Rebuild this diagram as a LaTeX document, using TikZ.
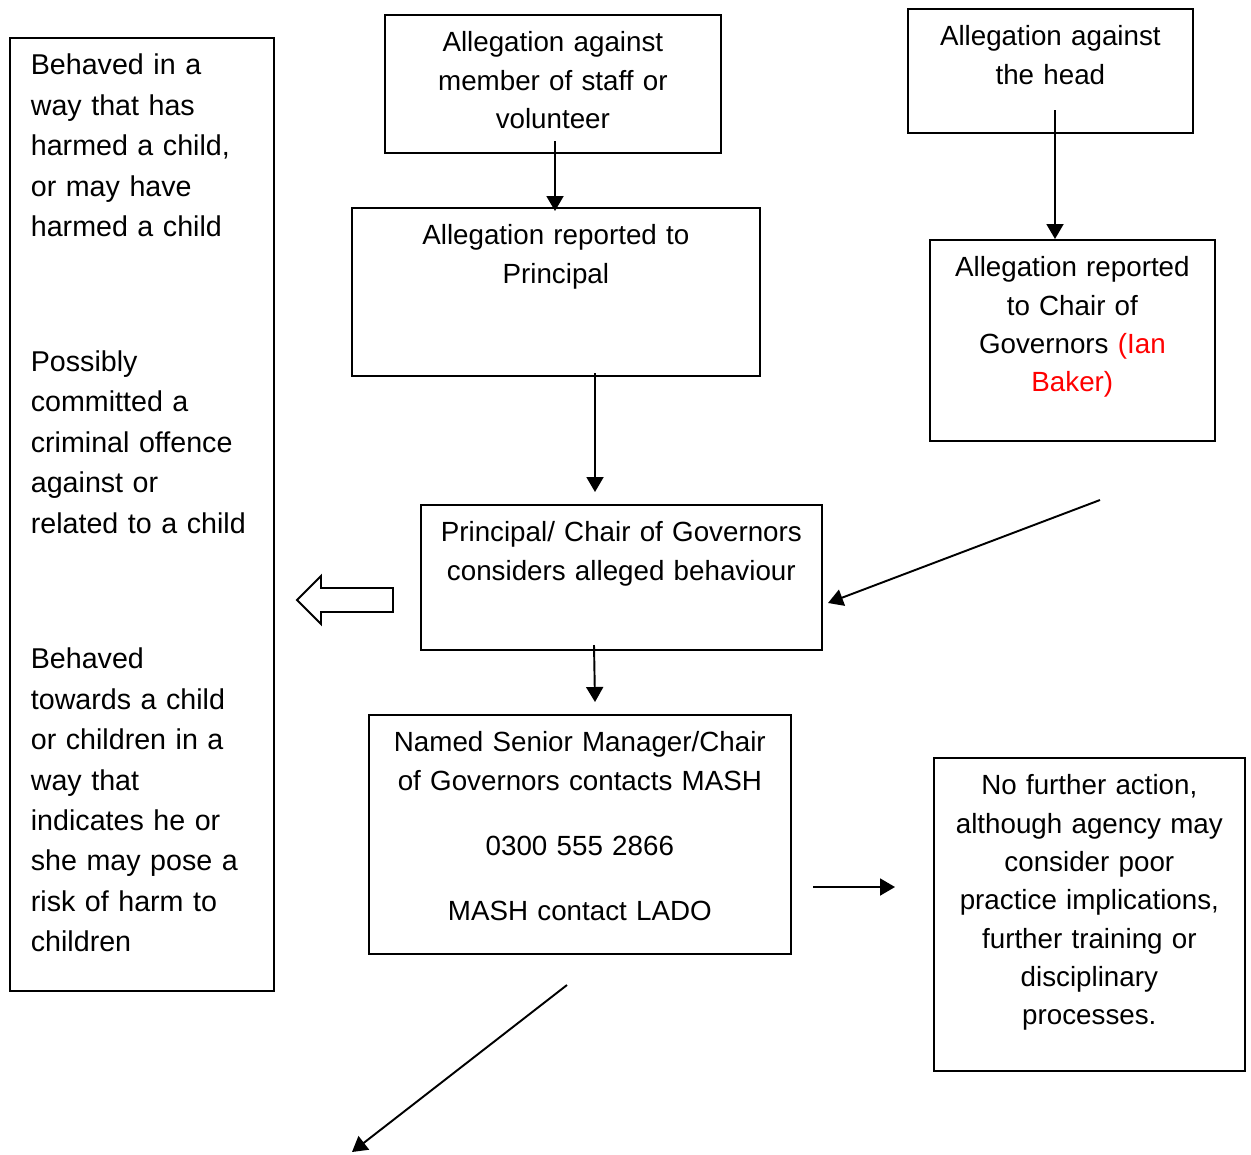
\documentclass[tikz,border=0pt]{standalone}
\usepackage{fontspec}
\setmainfont{Liberation Sans}
\usetikzlibrary{arrows.meta}

\tikzset{
  box/.style={draw, line width=1pt, anchor=north west, align=center,
    inner xsep=0pt, inner ysep=0pt, text height=0.74cm,
    font=\fontsize{15.8pt}{21.8pt}\selectfont},
  arr/.style={line width=1.1pt, -{Triangle[length=0.3cm, width=0.34cm]}},
}

\begin{document}
\begin{tikzpicture}[x=0.02cm, y=-0.02cm]
\useasboundingbox (0,0) rectangle (1251,1154);

\node[box, align=left, inner xsep=0.42cm, text width=4.44cm, text depth=18.32cm,
  font=\fontsize{16.3pt}{23pt}\selectfont] (harm) at (9,37)
  {Behaved in a\\ way that has\\ harmed a child,\\ or may have\\ harmed a child\\[1.89cm]
   Possibly\\ committed a\\ criminal offence\\ against or\\ related to a child\\[1.91cm]
   Behaved\\ towards a child\\ or children in a\\ way that\\ indicates he or\\ she may pose a\\ risk of harm to\\ children};

\node[box, text width=6.72cm, text depth=2.02cm] (staff) at (384,14)
  {Allegation against\\ member of staff or\\ volunteer};
\node[box, text width=8.16cm, text depth=2.62cm] (principal) at (351,207)
  {Allegation reported to\\ Principal};
\node[box, text width=5.70cm, text depth=1.74cm] (head) at (907,8)
  {Allegation against\\ the head};
\node[box, text width=5.70cm, text depth=3.28cm] (chair) at (929,239)
  {Allegation reported\\ to Chair of\\ Governors \textcolor{red}{(Ian}\\ \textcolor{red}{Baker)}};
\node[box, text width=8.02cm, text depth=2.16cm] (considers) at (420,504)
  {Principal/ Chair of Governors\\ considers alleged behaviour};
\node[box, text width=8.44cm, text depth=4.04cm] (mash) at (368,714)
  {Named Senior Manager/Chair\\ of Governors contacts MASH\\[0.55cm]
   0300 555 2866\\[0.53cm] MASH contact LADO};
\node[box, text width=6.22cm, text depth=5.52cm] (noaction) at (933,757)
  {No further action,\\ although agency may\\ consider poor\\ practice implications,\\ further training or\\ disciplinary\\ processes.};

\coordinate (s1) at (555,141);  \coordinate (e1) at (555,211);
\coordinate (s2) at (1055,110); \coordinate (e2) at (1055,239);
\coordinate (s3) at (595,373);  \coordinate (e3) at (595,492);
\coordinate (s4) at (1100,500); \coordinate (e4) at (828,603);
\coordinate (s5) at (594,645);  \coordinate (e5) at (595,702);
\coordinate (s6) at (813,887);  \coordinate (e6) at (895,887);
\coordinate (s7) at (567,985);  \coordinate (e7) at (352,1152);

\draw[arr] (s1) -- (e1);
\draw[arr] (s2) -- (e2);
\draw[arr] (s3) -- (e3);
\draw[arr] (s4) -- (e4);
\draw[arr] (s5) -- (e5);
\draw[arr] (s6) -- (e6);
\draw[arr] (s7) -- (e7);

\draw[line width=1.1pt, line join=miter] (393,588) -- (321,588) -- (321,576) -- (297,600)
  -- (321,624) -- (321,612) -- (393,612) -- cycle;

\end{tikzpicture}
\end{document}
